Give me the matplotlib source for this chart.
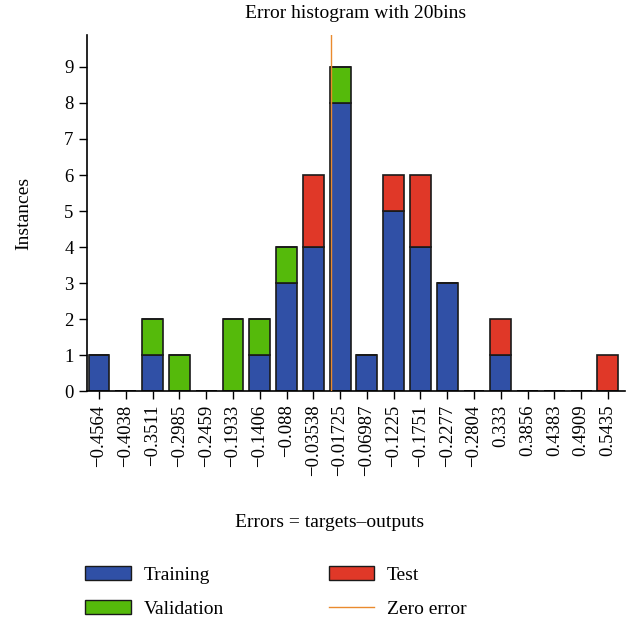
import matplotlib.pyplot as plt
import numpy as np
from matplotlib.patches import Patch
from matplotlib.lines import Line2D

plt.rcParams['font.family'] = ['Liberation Serif', 'DejaVu Serif']

# Bin centres of the error histogram (20 bins) and the labels printed under them
bin_centers = np.linspace(-0.4564, 0.5435, 20)
tick_labels = [
    '\u22120.4564', '\u22120.4038', '\u22120.3511', '\u22120.2985', '\u22120.2459',
    '\u22120.1933', '\u22120.1406', '\u22120.088', '\u22120.03538', '\u22120.01725',
    '\u22120.06987', '\u22120.1225', '\u22120.1751', '\u22120.2277', '\u22120.2804',
    '0.333', '0.3856', '0.4383', '0.4909', '0.5435'
]

training = [1, 0, 1, 0, 0, 0, 1, 3, 4, 8, 1, 5, 4, 3, 0, 1, 0, 0, 0, 0]
validation = [0, 0, 1, 1, 0, 2, 1, 1, 0, 1, 0, 0, 0, 0, 0, 0, 0, 0, 0, 0]
test = [0, 0, 0, 0, 0, 0, 0, 0, 2, 0, 0, 1, 2, 0, 0, 1, 0, 0, 0, 1]

c_train = '#3050A6'
c_val = '#55BA0B'
c_test = '#E03828'
c_zero = '#EA8A2E'
edge = '#1a1a1a'

step = bin_centers[1] - bin_centers[0]
width = 0.78 * step

fig = plt.figure(figsize=(6.33, 6.22), dpi=100)
ax = fig.add_axes([0.137, 0.371, 0.85, 0.573])

training = np.array(training)
validation = np.array(validation)
test = np.array(test)

ax.bar(bin_centers, training, width, color=c_train, edgecolor=edge, linewidth=1.2, zorder=2)
ax.bar(bin_centers, validation, width, bottom=training, color=c_val, edgecolor=edge,
       linewidth=1.2, zorder=2)
ax.bar(bin_centers, test, width, bottom=training + validation, color=c_test, edgecolor=edge,
       linewidth=1.2, zorder=2)

ax.axvline(0, color=c_zero, linewidth=1, zorder=3)

ax.set_xlim(-0.4564 - 0.46 * step, -0.4564 + 19.63 * step)
ax.set_ylim(0, 9.89)
ax.set_yticks(range(10))
ax.set_xticks(bin_centers)
ax.set_xticklabels(tick_labels, rotation=90, fontsize=13.5)
ax.tick_params(axis='y', labelsize=13.5, length=6, width=1, direction='out')
ax.tick_params(axis='x', length=6, width=1, direction='out')

for side in ['top', 'right']:
    ax.spines[side].set_visible(False)
for side in ['left', 'bottom']:
    ax.spines[side].set_linewidth(1.2)

ax.set_title('Error histogram with 20bins', fontsize=14, pad=12)
ax.set_ylabel('Instances', fontsize=14, labelpad=23)
fig.text(0.52, 0.16, 'Errors = targets\u2013outputs', fontsize=14, ha='center', va='center')

handles = [
    Patch(facecolor=c_train, edgecolor=edge, label='Training'),
    Patch(facecolor=c_val, edgecolor=edge, label='Validation'),
    Patch(facecolor=c_test, edgecolor=edge, label='Test'),
    Line2D([0], [0], color=c_zero, linewidth=1, label='Zero error'),
]
fig.legend(handles=handles, ncol=2, loc='upper left', bbox_to_anchor=(0.122, 0.103),
           frameon=False, fontsize=14, handlelength=2.35, handleheight=0.75,
           handletextpad=0.65, columnspacing=5.4, labelspacing=0.85, borderaxespad=0)

fig.savefig('out.png', dpi=100)
